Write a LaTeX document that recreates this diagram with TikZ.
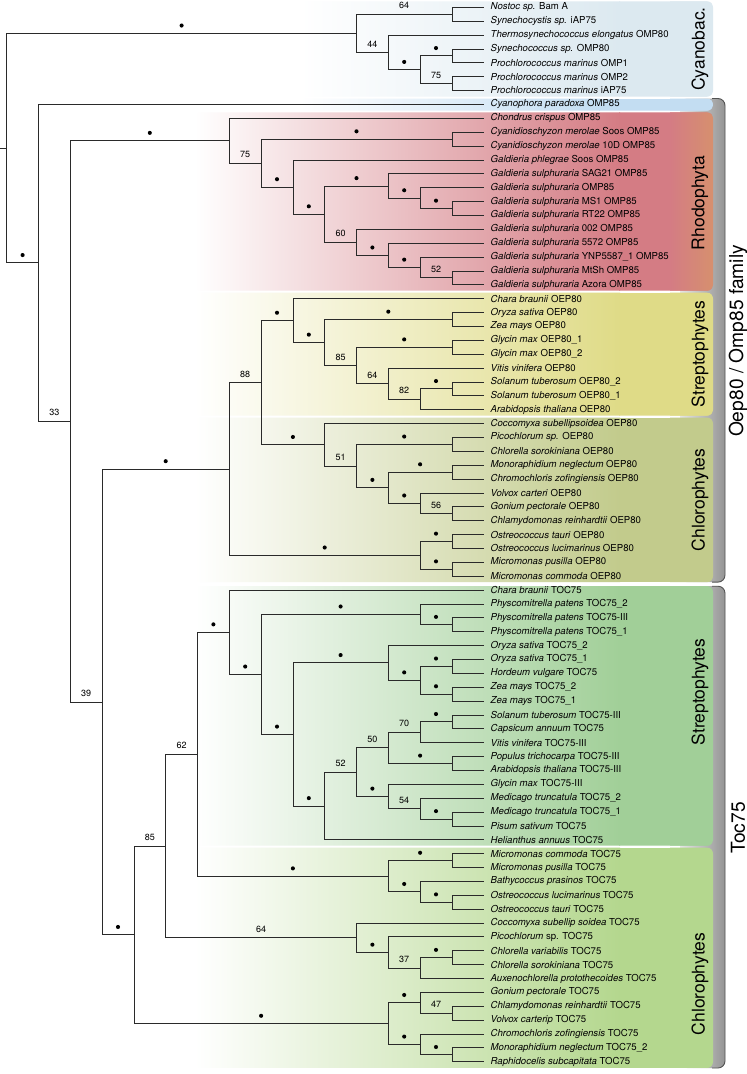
\documentclass[tikz,border=0pt]{standalone}
\usepackage{fontspec}
\setmainfont{TeX Gyre Heros}
\usetikzlibrary{calc}
\definecolor{cyanob}{HTML}{DCE9F0}
\definecolor{cyanoph}{HTML}{C3DDF2}
\definecolor{rhodo}{HTML}{D47C84}
\definecolor{rhodoR}{HTML}{D6906E}
\definecolor{strepA}{HTML}{DFDB87}
\definecolor{chloA}{HTML}{C2CB8C}
\definecolor{strepB}{HTML}{A1CF98}
\definecolor{chloB}{HTML}{B4D78E}
\definecolor{linecol}{HTML}{2A2A2A}
\newcounter{supc}
\newcommand\leaf[3]{\coordinate (l#1) at (483.7,{7.3+13.874*#1});
  \node[leaflab] (lab#1) at (490.5,{7.3+13.874*#1}) {\textit{#2} #3};}
\newcommand\inode[4]{\coordinate (tmp) at ($(#3)!.5!(#4)$);
  \coordinate (#1) at (tmp -| X#2);
  \draw[br] (#3) -| (#1) |- (#4);}
\newcommand\bdot[2]{\fill[black] ($(#1 |- #2)!.5!(#2)$) ++(0,-7.8) circle[radius=2.05];}
\newcommand\bsup[3]{\stepcounter{supc}\path ($(#1 |- #2)!.5!(#2)$) ++(0,-8.5) node[sup] (sup\thesupc) {#3};}
\newcommand\gbox[6]{% top, bottom, col, left, gradend, rightcol
  \begin{scope}
  \clip[rounded corners=6pt] (#4,#1) rectangle (713,#2);
  \fill[#3] ({#5-0.6},#1) rectangle (713,#2);
  \shade[left color=white, right color=#3] (#4,#1) rectangle (#5,#2);
  \shade[left color=#3, right color=#6] (670,#1) rectangle (713.5,#2);
  \end{scope}}
\newcommand\gbrack[2]{%
  \shade[left color=black!10, right color=black!42, rounded corners=7pt] (680,#1) rectangle (725,#2);
  \draw[black!68, line width=0.9pt, rounded corners=7pt] (712,#1) -- (725,#1) -- (725,#2) -- (712,#2);}
\begin{document}
\begin{tikzpicture}[x=1pt,y=-1pt,
  br/.style={line width=0.75pt, draw=linecol},
  leaflab/.style={anchor=west, inner sep=0pt, font=\fontsize{9.6}{10}\selectfont},
  sup/.style={inner sep=0pt, font=\fontsize{9}{10}\selectfont},
  grp/.style={rotate=90, inner sep=0pt, font=\fontsize{17.5}{18}\selectfont},
  fam/.style={rotate=90, inner sep=0pt, font=\fontsize{19.2}{20}\selectfont}]
\useasboundingbox (0,0) rectangle (747,1074);
\fill[white] (0,0) rectangle (747,1074);
% brackets
\gbrack{98.5}{582.1}
\gbrack{586.2}{1068}
% coloured boxes
\gbox{1.4}{96.5}{cyanob}{300}{620}{cyanob}
\gbox{98.6}{110.6}{cyanoph}{300}{600}{cyanoph}
\gbox{112.4}{290.7}{rhodo}{195}{620}{rhodoR}
\gbox{292.7}{415.6}{strepA}{195}{620}{strepA}
\gbox{417.6}{582.1}{chloA}{195}{620}{chloA}
\gbox{586.2}{845.7}{strepB}{195}{620}{strepB}
\gbox{847.7}{1067.8}{chloB}{195}{620}{chloB}
% group labels
\node[grp] (gCy) at (700,49) {Cyanobac.};
\node[grp] (gRh) at (700,203) {Rhodophyta};
\node[grp] (gS1) at (700,354) {Streptophytes};
\node[grp] (gC1) at (700,500) {Chlorophytes};
\node[grp] (gS2) at (700,692) {Streptophytes};
\node[grp] (gC2) at (700,984) {Chlorophytes};
\node[fam] (fO) at (738,341) {Oep80 / Omp85 family};
\node[fam] (fT) at (738,828) {Toc75};
% levels
\foreach \k in {0,...,15} \coordinate (X\k) at ({6.7+31.8*\k},0);
\coordinate (X00) at (0,0);
% leaves
\leaf{0}{Nostoc sp.}{Bam A}
\leaf{1}{Synechocystis sp.}{iAP75}
\leaf{2}{Thermosynechococcus elongatus}{OMP80}
\leaf{3}{Synechococcus sp.}{OMP80}
\leaf{4}{Prochlorococcus marinus}{OMP1}
\leaf{5}{Prochlorococcus marinus}{OMP2}
\leaf{6}{Prochlorococcus marinus}{iAP75}
\leaf{7}{Cyanophora paradoxa}{OMP85}
\leaf{8}{Chondrus crispus}{OMP85}
\leaf{9}{Cyanidioschyzon merolae}{Soos OMP85}
\leaf{10}{Cyanidioschyzon merolae}{10D OMP85}
\leaf{11}{Galdieria phlegrae}{Soos OMP85}
\leaf{12}{Galdieria sulphuraria}{SAG21 OMP85}
\leaf{13}{Galdieria sulphuraria}{OMP85}
\leaf{14}{Galdieria sulphuraria}{MS1 OMP85}
\leaf{15}{Galdieria sulphuraria}{RT22 OMP85}
\leaf{16}{Galdieria sulphuraria}{002 OMP85}
\leaf{17}{Galdieria sulphuraria}{5572 OMP85}
\leaf{18}{Galdieria sulphuraria}{YNP5587\_1 OMP85}
\leaf{19}{Galdieria sulphuraria}{MtSh OMP85}
\leaf{20}{Galdieria sulphuraria}{Azora OMP85}
\leaf{21}{Chara braunii}{OEP80}
\leaf{22}{Oryza sativa}{OEP80}
\leaf{23}{Zea mays}{OEP80}
\leaf{24}{Glycin max}{OEP80\_1}
\leaf{25}{Glycin max}{OEP80\_2}
\leaf{26}{Vitis vinifera}{OEP80}
\leaf{27}{Solanum tuberosum}{OEP80\_2}
\leaf{28}{Solanum tuberosum}{OEP80\_1}
\leaf{29}{Arabidopsis thaliana}{OEP80}
\leaf{30}{Coccomyxa subellipsoidea}{OEP80}
\leaf{31}{Picochlorum sp.}{OEP80}
\leaf{32}{Chlorella sorokiniana}{OEP80}
\leaf{33}{Monoraphidium neglectum}{OEP80}
\leaf{34}{Chromochloris zofingiensis}{OEP80}
\leaf{35}{Volvox carteri}{OEP80}
\leaf{36}{Gonium pectorale}{OEP80}
\leaf{37}{Chlamydomonas reinhardtii}{OEP80}
\leaf{38}{Ostreococcus tauri}{OEP80}
\leaf{39}{Ostreococcus lucimarinus}{OEP80}
\leaf{40}{Micromonas pusilla}{OEP80}
\leaf{41}{Micromonas commoda}{OEP80}
\leaf{42}{Chara braunii}{TOC75}
\leaf{43}{Physcomitrella patens}{TOC75\_2}
\leaf{44}{Physcomitrella patens}{TOC75-III}
\leaf{45}{Physcomitrella patens}{TOC75\_1}
\leaf{46}{Oryza sativa}{TOC75\_2}
\leaf{47}{Oryza sativa}{TOC75\_1}
\leaf{48}{Hordeum vulgare}{TOC75}
\leaf{49}{Zea mays}{TOC75\_2}
\leaf{50}{Zea mays}{TOC75\_1}
\leaf{51}{Solanum tuberosum}{TOC75-III}
\leaf{52}{Capsicum annuum}{TOC75}
\leaf{53}{Vitis vinifera}{TOC75-III}
\leaf{54}{Populus trichocarpa}{TOC75-III}
\leaf{55}{Arabidopsis thaliana}{TOC75-III}
\leaf{56}{Glycin max}{TOC75-III}
\leaf{57}{Medicago truncatula}{TOC75\_2}
\leaf{58}{Medicago truncatula}{TOC75\_1}
\leaf{59}{Pisum sativum}{TOC75}
\leaf{60}{Helianthus annuus}{TOC75}
\leaf{61}{Micromonas commoda}{TOC75}
\leaf{62}{Micromonas pusilla}{TOC75}
\leaf{63}{Bathycoccus prasinos}{TOC75}
\leaf{64}{Ostreococcus lucimarinus}{TOC75}
\leaf{65}{Ostreococcus tauri}{TOC75}
\leaf{66}{Coccomyxa subellip soidea}{TOC75}
\leaf{67}{Picochlorum}{sp. TOC75}
\leaf{68}{Chlorella variabilis}{TOC75}
\leaf{69}{Chlorella sorokiniana}{TOC75}
\leaf{70}{Auxenochlorella protothecoides}{TOC75}
\leaf{71}{Gonium pectorale}{TOC75}
\leaf{72}{Chlamydomonas reinhardtii}{TOC75}
\leaf{73}{Volvox carterip}{TOC75}
\leaf{74}{Chromochloris zofingiensis}{TOC75}
\leaf{75}{Monoraphidium neglectum}{TOC75\_2}
\leaf{76}{Raphidocelis subcapitata}{TOC75}
% Cyanobacteria
\inode{c01}{14}{l0}{l1}
\inode{c34}{14}{l3}{l4}
\inode{c56}{14}{l5}{l6}
\inode{c36}{13}{c34}{c56}
\inode{c26}{12}{l2}{c36}
\inode{cy}{11}{c01}{c26}
% Rhodophyta
\inode{rP}{14}{l9}{l10}
\inode{rK}{14}{l14}{l15}
\inode{rJ}{13}{l13}{rK}
\inode{rH}{12}{l12}{rJ}
\inode{rN}{14}{l19}{l20}
\inode{rM}{13}{l18}{rN}
\inode{rL}{12}{l17}{rM}
\inode{rI}{11}{l16}{rL}
\inode{rG}{10}{rH}{rI}
\inode{rF}{9}{l11}{rG}
\inode{rE}{8}{rP}{rF}
\inode{rh}{7}{l8}{rE}
% OEP80 streptophytes
\inode{sZ}{14}{l22}{l23}
\inode{sG}{14}{l24}{l25}
\inode{sS}{14}{l27}{l28}
\inode{s6}{13}{sS}{l29}
\inode{s5}{12}{l26}{s6}
\inode{s4}{11}{sG}{s5}
\inode{s2}{10}{sZ}{s4}
\inode{s1}{9}{l21}{s2}
% OEP80 chlorophytes
\inode{cP}{14}{l31}{l32}
\inode{cM}{14}{l33}{l34}
\inode{c5}{14}{l36}{l37}
\inode{c4}{13}{l35}{c5}
\inode{c3}{12}{cM}{c4}
\inode{c2}{11}{cP}{c3}
\inode{c1}{10}{l30}{c2}
\inode{q1}{8}{s1}{c1}
\inode{oO}{14}{l38}{l39}
\inode{oM}{14}{l40}{l41}
\inode{q2}{13}{oO}{oM}
\inode{qq}{7}{q1}{q2}
% TOC75 streptophytes
\inode{pP}{14}{l44}{l45}
\inode{p8}{13}{l43}{pP}
\inode{oa}{14}{l47}{l48}
\inode{ob}{14}{l49}{l50}
\inode{o10a}{13}{oa}{ob}
\inode{t10}{12}{l46}{o10a}
\inode{sc}{14}{l51}{l52}
\inode{t13a}{13}{sc}{l53}
\inode{pa}{14}{l54}{l55}
\inode{t13}{12}{t13a}{pa}
\inode{mp}{14}{l58}{l59}
\inode{t14a}{13}{l57}{mp}
\inode{t14}{12}{l56}{t14a}
\inode{t12}{11}{t13}{t14}
\inode{t11}{10}{t12}{l60}
\inode{t9}{9}{t10}{t11}
\inode{t7}{8}{p8}{t9}
\inode{t6}{7}{l42}{t7}
% TOC75 chlorophytes
\inode{mm}{14}{l61}{l62}
\inode{oo}{14}{l64}{l65}
\inode{t5b}{13}{l63}{oo}
\inode{t5}{12}{mm}{t5b}
\inode{t3}{6}{t6}{t5}
\inode{cc}{14}{l68}{l69}
\inode{t4b}{13}{cc}{l70}
\inode{t4a}{12}{l67}{t4b}
\inode{t4}{11}{l66}{t4a}
\inode{t1}{5}{t3}{t4}
\inode{cv}{14}{l72}{l73}
\inode{t2a}{13}{l71}{cv}
\inode{mr}{14}{l75}{l76}
\inode{t2b}{13}{l74}{mr}
\inode{t2}{12}{t2a}{t2b}
\inode{tt}{4}{t1}{t2}
% backbone
\inode{n3}{3}{qq}{tt}
\inode{n2}{2}{rh}{n3}
\inode{n1}{1}{l7}{n2}
\inode{n0}{0}{cy}{n1}
\draw[br] (n0) -- (n0 -| X00);
% support values
\bsup{cy}{c01}{64} \bsup{cy}{c26}{44} \bdot{c26}{c36} \bdot{c36}{c34} \bsup{c36}{c56}{75}
\bdot{rE}{rP} \bdot{rJ}{rK} \bdot{rH}{rJ} \bdot{rG}{rH} \bsup{rM}{rN}{52} \bdot{rL}{rM}
\bdot{rI}{rL} \bsup{rG}{rI}{60} \bdot{rF}{rG} \bdot{rE}{rF} \bsup{rh}{rE}{75} \bdot{n2}{rh}
\bdot{s2}{sZ} \bdot{s4}{sG} \bdot{s6}{sS} \bsup{s5}{s6}{82} \bsup{s4}{s5}{64} \bsup{s2}{s4}{85}
\bdot{s1}{s2} \bdot{q1}{s1}
\bdot{c2}{cP} \bdot{c3}{cM} \bsup{c4}{c5}{56} \bdot{c3}{c4} \bdot{c2}{c3} \bsup{c1}{c2}{51}
\bdot{q1}{c1} \bsup{qq}{q1}{88} \bdot{q2}{oO} \bdot{q2}{oM} \bdot{qq}{q2} \bdot{n3}{qq}
\bdot{p8}{pP} \bdot{t7}{p8} \bdot{o10a}{oa} \bdot{o10a}{ob} \bdot{t10}{o10a} \bdot{t9}{t10}
\bdot{t13a}{sc} \bsup{t13}{t13a}{70} \bdot{t13}{pa} \bsup{t12}{t13}{50} \bdot{t14a}{mp}
\bsup{t14}{t14a}{54} \bdot{t12}{t14} \bsup{t11}{t12}{52} \bdot{t9}{t11} \bdot{t7}{t9}
\bdot{t6}{t7} \bdot{t3}{t6}
\bdot{t5}{mm} \bdot{t5b}{oo} \bdot{t5}{t5b} \bdot{t3}{t5} \bsup{t1}{t3}{62}
\bdot{t4b}{cc} \bsup{t4a}{t4b}{37} \bdot{t4}{t4a} \bsup{t1}{t4}{64} \bsup{tt}{t1}{85}
\bsup{t2a}{cv}{47} \bdot{t2}{t2a} \bdot{t2b}{mr} \bdot{t2}{t2b} \bdot{tt}{t2} \bdot{n3}{tt}
\bsup{n2}{n3}{39} \bsup{n1}{n2}{33} \bdot{n0}{n1} \bdot{n0}{cy}
\end{tikzpicture}
\end{document}
